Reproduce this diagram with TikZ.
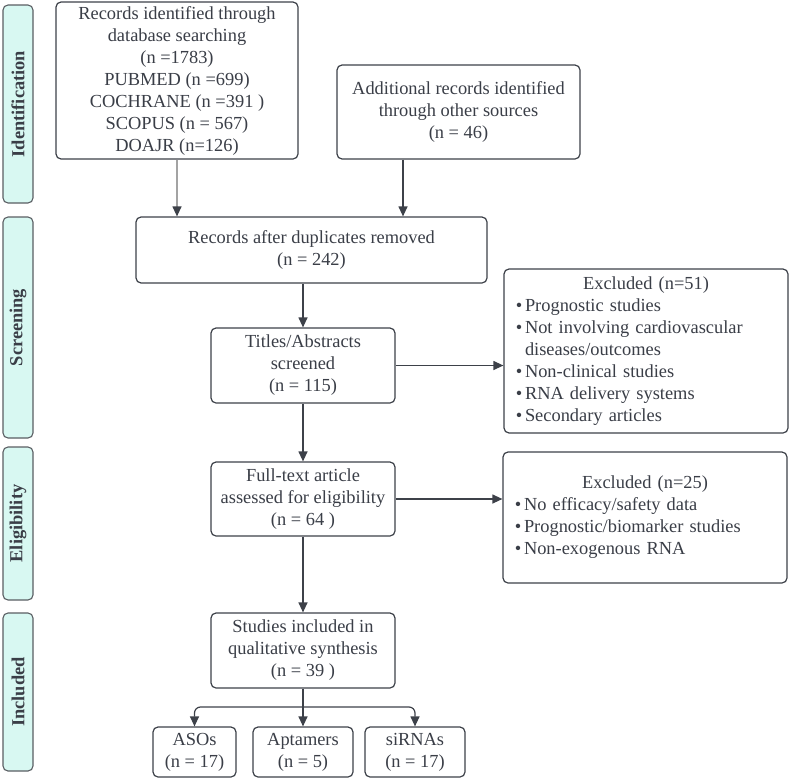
\documentclass[tikz,border=0pt]{standalone}
\usepackage{fontspec}
\setmainfont{Liberation Serif}
\usetikzlibrary{arrows.meta,calc}
\definecolor{bord}{HTML}{3D4149}
\definecolor{txt}{HTML}{3A3E47}
\definecolor{sidefill}{HTML}{D8F8F2}
\definecolor{sidebord}{HTML}{5A5E63}
\definecolor{lightline}{HTML}{A3A3A3}
\newcommand\bitem[1]{\par\hangindent=12pt\hangafter=1\noindent\makebox[12pt][c]{\textbullet}#1}
\tikzset{
  box/.style={draw=bord, line width=1.2pt, rounded corners=5pt, fill=white, text=txt,
    align=center, inner sep=0pt, font=\fontsize{18.4}{22}\selectfont},
  exbox/.style={draw=bord, line width=1.2pt, rounded corners=5pt, fill=white, text=txt,
    inner xsep=9pt, inner ysep=0pt, font=\fontsize{18.4}{22}\selectfont},
  side/.style={draw=sidebord, line width=1.1pt, rounded corners=5pt, fill=sidefill, text=txt,
    rotate=90, inner sep=0pt, minimum height=30pt, font=\fontsize{18.4}{22}\selectfont\bfseries},
  arr/.style={draw=bord, line width=1.2pt, -{Triangle[length=10pt,width=9pt]}},
}
\begin{document}
\begin{tikzpicture}[x=1pt,y=-1pt]
\useasboundingbox (0,0) rectangle (790,779);
% side bars
\node[side, minimum width=198pt] (s1) at (18,104) {Identification};
\node[side, minimum width=221pt] (s2) at (18,327.5) {Screening};
\node[side, minimum width=153pt] (s3) at (18,523.5) {Eligibility};
\node[side, minimum width=158pt] (s4) at (18,692) {Included};
% boxes
\node[box, minimum width=242pt, minimum height=157pt] (A) at (177,80.5)
  {Records identified through\\database searching\\(n =1783)\\PUBMED (n =699)\\COCHRANE (n =391 )\\SCOPUS (n = 567)\\DOAJR (n=126)};
\node[box, minimum width=243pt, minimum height=94pt] (B) at (458.5,112)
  {Additional records identified\\through other sources\\(n = 46)};
\node[box, minimum width=351pt, minimum height=66pt] (C) at (311.5,250)
  {Records after duplicates removed\\(n = 242)};
\node[box, minimum width=184pt, minimum height=75pt] (D) at (303,365.5)
  {Titles/Abstracts\\screened\\(n = 115)};
\node[exbox, text width=266pt, minimum height=164pt] (E) at (646,351)
  {\raggedright{\centering Excluded (n=51)\par}%
   \bitem{Prognostic studies}%
   \bitem{Not involving cardiovascular\newline diseases/outcomes}%
   \bitem{Non-clinical studies}%
   \bitem{RNA delivery systems}%
   \bitem{Secondary articles}\par};
\node[box, minimum width=184pt, minimum height=74pt] (F) at (303,499)
  {Full-text article\\assessed for eligibility\\(n = 64 )};
\node[exbox, text width=266pt, minimum height=131pt] (G) at (645,517.5)
  {\raggedright{\centering Excluded (n=25)\par}%
   \bitem{No efficacy/safety data}%
   \bitem{Prognostic/biomarker studies}%
   \bitem{Non-exogenous RNA}\par};
\node[box, minimum width=184pt, minimum height=75pt] (H) at (303,650.5)
  {Studies included in\\qualitative synthesis\\(n = 39 )};
\node[box, minimum width=83pt, minimum height=50pt] (I1) at (194.5,752) {ASOs\\(n = 17)};
\node[box, minimum width=100pt, minimum height=50pt] (I2) at (303,752) {Aptamers\\(n = 5)};
\node[box, minimum width=100pt, minimum height=50pt] (I3) at (415,752) {siRNAs\\(n = 17)};
% connectors
\coordinate (bx) at (403,0);
\coordinate (br) at (303,707);
\draw[arr, draw=lightline, -{Triangle[length=10pt,width=9pt,color=bord]}] (A.south) -- (A.south |- C.north);
\draw[arr] (B.south -| bx) -- (C.north -| bx);
\draw[arr] (C.south -| D.north) -- (D.north);
\draw[arr] (D.east) -- (D.east -| E.west);
\draw[arr] (D.south) -- (F.north);
\draw[arr] (F.east) -- (F.east -| G.west);
\draw[arr] (F.south) -- (H.north);
\draw[arr] (H.south) -- (I2.north);
\draw[arr, rounded corners=6pt] (br) -| (I1.north);
\draw[arr, rounded corners=6pt] (br) -| (I3.north);
\end{tikzpicture}
\end{document}
